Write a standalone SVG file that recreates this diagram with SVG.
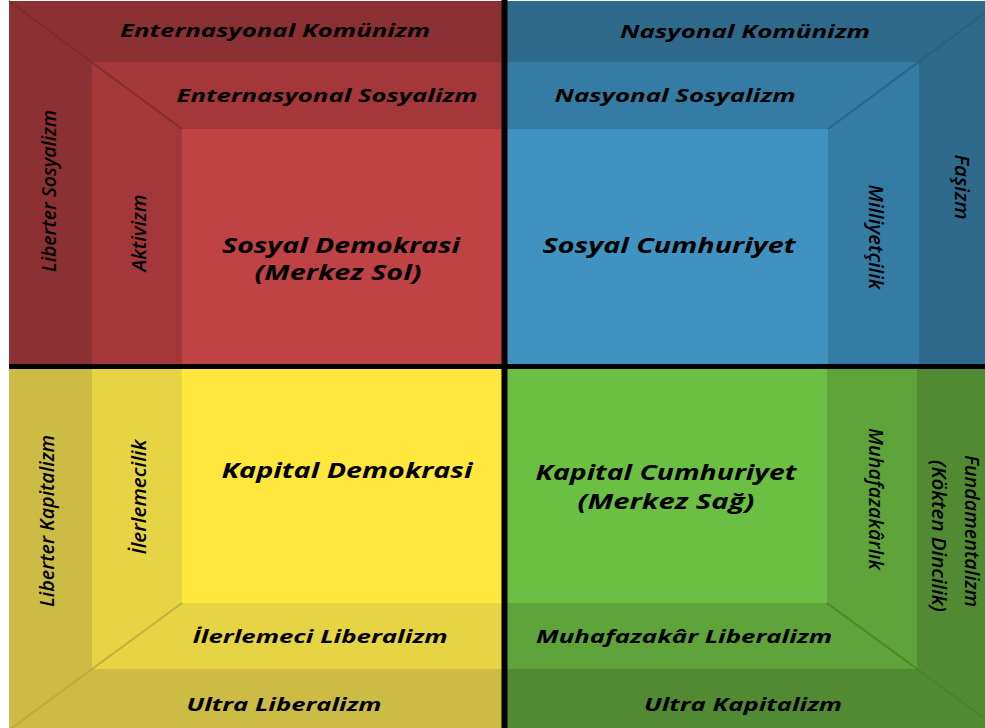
<svg xmlns="http://www.w3.org/2000/svg" width="985" height="728" viewBox="0 0 985 728">
<style>
.h{font-family:"Open Sans","DejaVu Sans",sans-serif;font-weight:700;font-style:italic;font-size:18px;fill:#000;text-anchor:middle}
.b{font-size:22px}
.v{font-family:"Open Sans","DejaVu Sans",sans-serif;font-weight:600;font-style:italic;font-size:20px;fill:#000;text-anchor:middle}
.diag{stroke-width:2;fill:none;stroke-opacity:0.8}
</style>
<rect x="0" y="0" width="985" height="728" fill="#ffffff"/>
<g id="red">
<rect x="9" y="1" width="496" height="366" fill="#8C3133"/>
<rect x="92" y="62" width="413" height="305" fill="#A33739"/>
<rect x="182" y="129" width="323" height="238" fill="#BF4244"/>
<line class="diag" x1="9" y1="1" x2="182" y2="129" stroke="#7A2A2C"/>
</g>
<g id="blue">
<rect x="504" y="1" width="481" height="366" fill="#2F698B"/>
<rect x="504" y="62" width="415" height="305" fill="#357CA5"/>
<rect x="504" y="129" width="324" height="238" fill="#4093C1"/>
<line class="diag" x1="1001" y1="1" x2="828" y2="129" stroke="#2A5E7C"/>
</g>
<g id="yellow">
<rect x="9" y="366" width="496" height="362" fill="#CCBB45"/>
<rect x="92" y="366" width="413" height="303" fill="#E6D444"/>
<rect x="182" y="366" width="323" height="237" fill="#FFE73E"/>
<line class="diag" x1="182" y1="603" x2="9" y2="730" stroke="#B8A83C"/>
</g>
<g id="green">
<rect x="504" y="366" width="481" height="362" fill="#518A32"/>
<rect x="504" y="366" width="413" height="303" fill="#5EA43A"/>
<rect x="504" y="366" width="323" height="237" fill="#6BBF43"/>
<line class="diag" x1="827" y1="603" x2="1003" y2="732" stroke="#4A7E2E"/>
</g>
<g id="connectors">
<line x1="504.5" y1="0" x2="504.5" y2="728" stroke="#000" stroke-width="6"/>
<line x1="9" y1="366.5" x2="985" y2="366.5" stroke="#000" stroke-width="5"/>
</g>
<g id="labels-red">
<text class="h" x="275" y="37" textLength="310" lengthAdjust="spacingAndGlyphs">Enternasyonal Komünizm</text>
<text class="h" x="327" y="102" textLength="301" lengthAdjust="spacingAndGlyphs">Enternasyonal Sosyalizm</text>
<text class="h b" x="341" y="253" textLength="238" lengthAdjust="spacingAndGlyphs">Sosyal Demokrasi</text>
<text class="h b" x="338" y="280" textLength="167" lengthAdjust="spacingAndGlyphs">(Merkez Sol)</text>
<text class="v" transform="translate(56,191) rotate(-90)" textLength="162" lengthAdjust="spacingAndGlyphs">Liberter Sosyalizm</text>
<text class="v" transform="translate(146,233) rotate(-90)" textLength="77" lengthAdjust="spacingAndGlyphs">Aktivizm</text>
</g>
<g id="labels-blue">
<text class="h" x="745" y="38" textLength="250" lengthAdjust="spacingAndGlyphs">Nasyonal Komünizm</text>
<text class="h" x="675" y="102" textLength="241" lengthAdjust="spacingAndGlyphs">Nasyonal Sosyalizm</text>
<text class="h b" x="669" y="253" textLength="253" lengthAdjust="spacingAndGlyphs">Sosyal Cumhuriyet</text>
<text class="v" transform="translate(869,237) rotate(90)" textLength="105" lengthAdjust="spacingAndGlyphs">Milliyetçilik</text>
<text class="v" transform="translate(955,187) rotate(90)" textLength="65" lengthAdjust="spacingAndGlyphs">Faşizm</text>
</g>
<g id="labels-yellow">
<text class="h b" x="347" y="478" textLength="251" lengthAdjust="spacingAndGlyphs">Kapital Demokrasi</text>
<text class="h" x="320" y="643" textLength="255" lengthAdjust="spacingAndGlyphs">İlerlemeci Liberalizm</text>
<text class="h" x="284" y="711" textLength="195" lengthAdjust="spacingAndGlyphs">Ultra Liberalizm</text>
<text class="v" transform="translate(54,521) rotate(-90)" textLength="172" lengthAdjust="spacingAndGlyphs">Liberter Kapitalizm</text>
<text class="v" transform="translate(146,497) rotate(-90)" textLength="115" lengthAdjust="spacingAndGlyphs">İlerlemecilik</text>
</g>
<g id="labels-green">
<text class="h b" x="666" y="480" textLength="261" lengthAdjust="spacingAndGlyphs">Kapital Cumhuriyet</text>
<text class="h b" x="666" y="509" textLength="177" lengthAdjust="spacingAndGlyphs">(Merkez Sağ)</text>
<text class="h" x="684" y="643" textLength="296" lengthAdjust="spacingAndGlyphs">Muhafazakâr Liberalizm</text>
<text class="h" x="743" y="711" textLength="198" lengthAdjust="spacingAndGlyphs">Ultra Kapitalizm</text>
<text class="v" transform="translate(869,499) rotate(90)" textLength="142" lengthAdjust="spacingAndGlyphs">Muhafazakârlık</text>
<text class="v" transform="translate(965,531) rotate(90)" textLength="152" lengthAdjust="spacingAndGlyphs">Fundamentalizm</text>
<text class="v" transform="translate(932,536) rotate(90)" textLength="152" lengthAdjust="spacingAndGlyphs">(Kökten Dincilik)</text>
</g>
</svg>
